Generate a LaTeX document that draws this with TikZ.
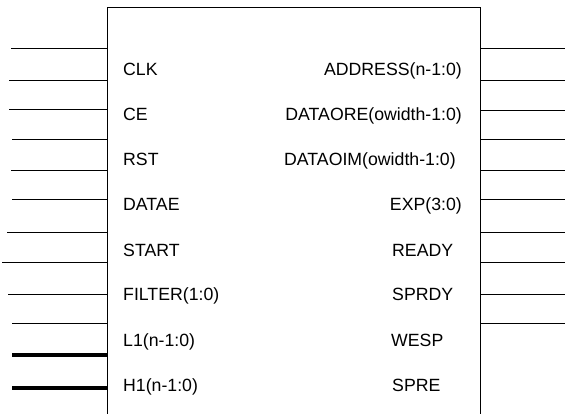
\documentclass[tikz,border=0pt]{standalone}
\usepackage{fontspec}
\setmainfont{Liberation Sans}
\begin{document}
\begin{tikzpicture}[x=1pt,y=-1pt,
  body/.style={line width=1pt},
  wire/.style={line width=1pt},
  bus/.style={line width=4.5pt},
  lbl/.style={font=\fontsize{17.7}{20}\selectfont, inner sep=0pt}]
\useasboundingbox (0,0) rectangle (565,414);

% block outline (open at the bottom, runs off the page)
\coordinate (bl) at (107.5,414);
\coordinate (tl) at (107.5,7.5);
\coordinate (tr) at (480,7.5);
\coordinate (br) at (480,414);
\draw[body] (bl) -- (tl) -- (tr) -- (br);

% left-hand pins: y position / start x
\foreach \y/\x [count=\i] in {49/11,81/9,110/9,140/12,171/11,200/12,233/7,263/2,294/8,323/12}{
  \coordinate (lp\i) at (107.5,\y);
  \coordinate (le\i) at (\x,\y);
  \draw[wire] (le\i) -- (lp\i);
}
% left-hand buses
\foreach \y [count=\i from 11] in {355,388}{
  \coordinate (lp\i) at (107.5,\y);
  \coordinate (le\i) at (12,\y);
  \draw[bus] (le\i) -- (lp\i);
}

% right-hand pins
\foreach \y [count=\i] in {49,81,111,140,171,200,233,263,294,323}{
  \coordinate (rp\i) at (480,\y);
  \coordinate (re\i) at (565,\y);
  \draw[wire] (rp\i) -- (re\i);
}

% input port names
\node[lbl, anchor=base west] (clk)    at (123,76)  {CLK};
\node[lbl, anchor=base west] (ce)     at (123,121) {CE};
\node[lbl, anchor=base west] (rst)    at (123,166) {RST};
\node[lbl, anchor=base west] (datae)  at (123,211) {DATAE};
\node[lbl, anchor=base west] (start)  at (123,256) {START};
\node[lbl, anchor=base west] (filter) at (123,300) {FILTER(1:0)};
\node[lbl, anchor=base west] (l1)     at (123,346) {L1(n-1:0)};
\node[lbl, anchor=base west] (h1)     at (123,391) {H1(n-1:0)};

% output port names
\node[lbl, anchor=base east] (address) at (462,76)  {ADDRESS(n-1:0)};
\node[lbl, anchor=base east] (dataore) at (462,121) {DATAORE(owidth-1:0)};
\node[lbl, anchor=base west] (dataoim) at (284,166) {DATAOIM(owidth-1:0)};
\node[lbl, anchor=base east] (exp)     at (462,211) {EXP(3:0)};
\node[lbl, anchor=base west] (ready)   at (392,256) {READY};
\node[lbl, anchor=base west] (sprdy)   at (392,300) {SPRDY};
\node[lbl, anchor=base west] (wesp)    at (391,346) {WESP};
\node[lbl, anchor=base west] (spre)    at (392,391) {SPRE};
\end{tikzpicture}
\end{document}
